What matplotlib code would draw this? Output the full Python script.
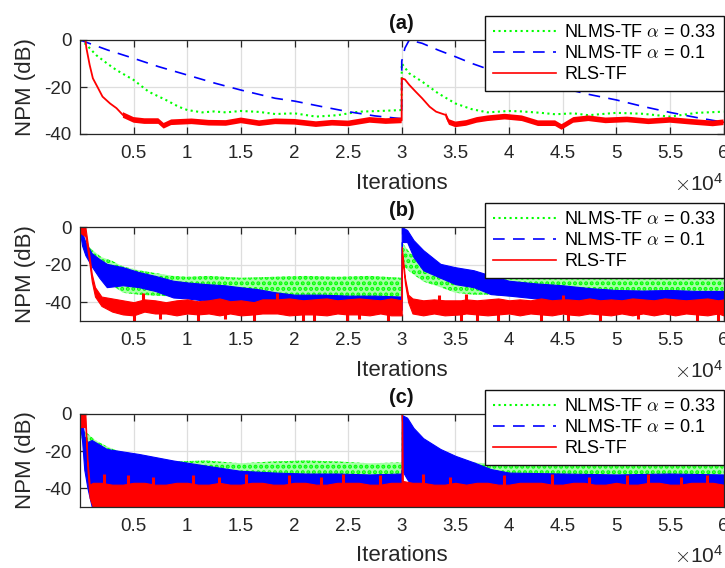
import matplotlib
matplotlib.use('Agg')
import matplotlib.pyplot as plt
from matplotlib.lines import Line2D
import numpy as np

plt.rcParams['font.family'] = ['Liberation Sans', 'DejaVu Sans']
plt.rcParams['mathtext.fontset'] = 'cm'
plt.rcParams['axes.unicode_minus'] = False
plt.rcParams['hatch.linewidth'] = 2.0

GREEN, BLUE, RED = '#00ff00', '#0000ff', '#ff0000'
labels = [r'NLMS-TF $\alpha$ = 0.33', r'NLMS-TF $\alpha$ = 0.1', 'RLS-TF']
titles = ['(a)', '(b)', '(c)']
x_ticks = [0.5, 1, 1.5, 2, 2.5, 3, 3.5, 4, 4.5, 5, 5.5, 6]
x_tick_labels = ['0.5', '1', '1.5', '2', '2.5', '3', '3.5', '4', '4.5', '5', '5.5', '6']
y_ticks = [-40, -20, 0]

# ---- (a) : iterations in units of 1e4, NPM in dB
a_blue_x = [0, 0.26, 0.5, 0.73, 1.0, 1.26, 1.5, 1.82, 2.0, 2.25, 2.5, 2.75, 2.999,
            3.0, 3.03, 3.07, 3.19, 3.34, 3.5, 3.65, 3.78, 4.0, 4.25, 4.5, 4.75,
            5.0, 5.25, 5.5, 5.75, 6.0]
a_blue = [0, -4.3, -7.8, -11.3, -14.9, -18.4, -21.3, -24.8, -26.0, -28.3, -30.5, -32.3, -33.5,
          -9.0, -3.4, 0.0, -1.4, -4.3, -7.1, -9.9, -12.0, -14.6, -17.5, -20.5, -23.2,
          -25.5, -28.3, -30.8, -33.0, -35.0]

a_green_x = [0, 0.06, 0.15, 0.25, 0.34, 0.5, 0.64, 0.8, 0.92, 1.0,
             1.14, 1.25, 1.36, 1.5, 1.67, 1.82, 2.0, 2.2, 2.4, 2.6, 2.8, 2.999,
             3.0, 3.07, 3.19, 3.34, 3.5, 3.65, 3.8, 4.0, 4.12, 4.3, 4.43, 4.6, 4.74,
             5.0, 5.25, 5.5, 5.75, 6.0]
a_green = [0, -2.0, -6.4, -9.9, -12.8, -17.0, -22.0, -25.5, -28.4, -29.8,
           -30.8, -30.4, -30.8, -30.2, -30.6, -31.5, -31.2, -32.6, -32.0, -30.5, -30.2, -29.8,
           -10.0, -14.2, -17.7, -22.7, -27.0, -29.4, -30.8, -30.2, -30.4, -31.0, -31.6, -31.2, -32.0,
           -31.0, -31.4, -32.6, -31.0, -30.5]

a_red_x = [0, 0.05, 0.06, 0.09, 0.12, 0.17, 0.21, 0.28, 0.34, 0.4,
           0.5, 0.6, 0.73, 0.78, 0.85, 1.04, 1.2, 1.36, 1.5, 1.67,
           1.82, 2.0, 2.2, 2.35, 2.5, 2.7, 2.85, 2.999,
           3.0, 3.03, 3.07, 3.13, 3.19, 3.26, 3.32, 3.41, 3.44, 3.5,
           3.6, 3.7, 3.8, 3.96, 4.12, 4.27, 4.43, 4.49, 4.6, 4.74,
           4.9, 5.1, 5.3, 5.5, 5.7, 5.9, 6.0]
a_red = [0, 0, -3.5, -10.6, -16.3, -20.6, -24.1, -27.0, -29.0, -31.9,
         -34.0, -34.5, -34.5, -36.5, -35.0, -34.6, -35.2, -35.3, -34.2, -35.4,
         -34.6, -34.8, -35.8, -35.2, -35.5, -34.0, -34.5, -34.2,
         -16.3, -16.8, -19.1, -22.0, -24.8, -28.4, -30.5, -31.9, -34.9, -35.9,
         -35.3, -34.0, -33.3, -32.6, -33.3, -35.4, -35.4, -37.0, -34.0, -33.3,
         -34.2, -33.8, -34.6, -34.0, -34.8, -35.5, -35.0]
a_red_spread = 1.2   # half-thickness of the noisy red trace in steady state

# ---- (b) : envelopes (upper / lower) of the noisy traces
b_green_x = [0, 0.03, 0.06, 0.11, 0.2, 0.3, 0.4, 0.55, 0.7, 0.87,
             1.0, 1.2, 1.5, 1.8, 2.1, 2.4, 2.7, 2.999,
             3.0, 3.04, 3.08, 3.2, 3.36, 3.5, 3.67, 3.83,
             4.0, 4.3, 4.6, 5.0, 5.4, 5.7, 6.0]
b_green_hi = [0, -4, -9, -12, -16, -18, -21, -23, -24.5, -26,
              -26.5, -26, -27, -26.5, -26, -26.5, -26, -27,
              -8, -11, -14, -19.6, -23, -25, -26, -26,
              -25.5, -26, -25.5, -26, -25.5, -26, -26]
b_green_lo = [-3, -9, -15, -20, -27, -31, -35, -36, -36.5, -37,
              -37, -37, -37, -37.5, -37, -37, -37.5, -37.5,
              -20, -22, -24, -29, -32, -35, -36, -36,
              -37, -37, -37, -37.5, -37, -37.5, -37]

b_blue_x = [0, 0.02, 0.05, 0.11, 0.18, 0.25, 0.4, 0.55, 0.7, 0.87,
            1.0, 1.18, 1.35, 1.49, 1.65, 1.82, 2.0, 2.25, 2.5, 2.75,
            2.999, 3.0, 3.05, 3.11, 3.2, 3.36, 3.5, 3.67, 3.83, 4.0,
            4.25, 4.5, 4.75, 5.0, 5.25, 5.5, 5.75, 6.0]
b_blue_hi = [0, -3, -8, -14, -17, -19.6, -21.4, -24, -26, -28.6,
             -29.5, -30.4, -31, -32, -33, -34.7, -36, -36, -36.5, -36.5,
             -37, 0, -1.6, -7, -12.3, -19.6, -21.4, -23, -25.8, -28.6,
             -30, -31, -32.5, -33.5, -33.8, -33.5, -34, -34]
b_blue_lo = [-3, -10, -15, -21, -27, -32, -31, -32, -34, -37.5,
             -38, -39.3, -40, -41, -41.5, -42, -43.5, -44, -44.5, -44,
             -44, -8, -8, -16, -23, -27, -30.4, -32, -35.7, -36.5,
             -38, -40, -41, -42, -43, -43.5, -43.6, -43.6]

b_red_x = [0, 0.05, 0.08, 0.11, 0.14, 0.2, 0.3, 0.4, 0.5, 0.6,
           0.7, 0.8, 0.9, 1.0, 1.1, 1.2, 1.3, 1.4, 1.5, 1.62,
           1.7, 1.84, 1.95, 2.08, 2.18, 2.3, 2.4, 2.49, 2.6, 2.7,
           2.8, 2.9, 2.999,
           3.0, 3.03, 3.06, 3.1, 3.2, 3.3, 3.4, 3.55, 3.6, 3.7,
           3.8, 3.9, 4.0, 4.1, 4.2, 4.3, 4.4, 4.5, 4.55, 4.65,
           4.75, 4.85, 4.95, 5.05, 5.15, 5.25, 5.35, 5.45, 5.55, 5.65,
           5.75, 5.85, 5.95, 6.0]
b_red_hi = [0, 0, -12, -25, -32, -37, -38, -39, -40, -38.5,
            -39, -40, -39, -38.5, -39.5, -39, -38, -39.5, -39, -40,
            -38.5, -38.5, -38, -39, -38.5, -38, -39, -38.5, -38, -38.5,
            -39, -38, -39,
            -10.5, -27, -36, -38, -39, -38.5, -39, -39, -38.5, -39,
            -38.5, -38, -39, -38.5, -39, -38, -39, -38.5, -38.5, -39,
            -38, -39, -38.5, -39, -38, -38.5, -39, -38, -38.5, -39,
            -38.5, -38, -39, -38.5]
b_red_lo = [-3, -5, -16, -29, -37, -42, -45, -46.5, -47, -45,
            -46, -46, -47, -46, -46.5, -46, -47, -46, -47, -46.5,
            -46, -46, -47, -46.5, -46.5, -47, -46, -46.5, -46.5, -47,
            -46, -47, -47,
            -14, -30, -40, -46, -47, -46, -47, -46.5, -46, -46.5,
            -47, -46.5, -46, -47, -46, -46.5, -47, -46, -46.5, -47,
            -46, -46.5, -47, -46, -47, -46, -47, -46, -47, -46,
            -46.5, -47, -46, -47]
# narrow excursions of the red trace outside its core band
b_red_spike_x = [0.5, 0.59, 0.75, 1.1, 1.35, 1.62, 1.84, 2.08, 2.18, 2.49, 2.6, 2.87,
                 3.35, 3.55, 3.6, 3.7, 3.9, 4.3, 4.5, 4.55, 4.85, 5.2, 5.75, 5.95]
b_red_spike_y = [-50, -35, -49, -50, -49, -50, -35, -50, -50, -50, -49, -50,
                 -36, -50, -35.5, -50, -50, -50, -36, -50, -50, -49, -50, -50]

# ---- (c)
c_green_x = [0, 0.02, 0.06, 0.14, 0.25, 0.4, 0.55, 0.87, 1.18, 1.5,
             1.8, 2.1, 2.4, 2.7, 2.999, 3.0, 3.02, 3.05, 3.1, 3.2,
             3.4, 3.6, 3.8, 4.0, 4.5, 5.0, 5.5, 6.0]
c_green_hi = [-3, -8, -10, -14, -17.4, -21, -22.8, -25.5, -25, -26.5,
              -25.5, -25, -25.5, -26.5, -26, -8, -12, -14, -20, -26,
              -26.5, -26, -26.5, -25.5, -25, -25.5, -25, -25.5]
c_green_lo = [-8, -14, -20, -28, -33, -37, -40, -42, -42, -42,
              -42, -42, -42, -42, -42, -20, -25, -30, -38, -40,
              -42, -42, -42, -42, -42, -42, -42, -42]

c_blue_x = [0, 0.02, 0.04, 0.07, 0.11, 0.25, 0.55, 0.87, 1.18, 1.49,
            1.82, 2.1, 2.4, 2.7, 2.999, 3.0, 3.05, 3.11, 3.2, 3.36,
            3.5, 3.67, 3.83, 4.0, 4.5, 5.0, 5.5, 6.0]
c_blue_hi = [0, -3, -12, -15, -14, -18.8, -21.5, -25, -27.8, -30.5,
             -31.5, -32, -32, -32.5, -32, -0.5, -2, -7.5, -13, -18.8,
             -22.5, -26, -29.6, -31.5, -32, -32.5, -32, -32.5]
c_blue_lo = [-5, -15, -30, -40, -50, -50, -50, -50, -50, -50,
             -50, -50, -50, -50, -50, -30, -35, -40, -45, -48,
             -50, -50, -50, -50, -50, -50, -50, -50]

c_red_x = [0, 0.05, 0.07, 0.09, 0.12, 0.2, 0.3, 0.4, 0.5, 0.6,
           0.7, 0.8, 0.9, 1.0, 1.1, 1.2, 1.3, 1.4, 1.5, 1.6,
           1.7, 1.8, 1.9, 2.0, 2.1, 2.2, 2.3, 2.4, 2.5, 2.6,
           2.7, 2.8, 2.9, 2.999,
           3.0, 3.004, 3.01, 3.1, 3.2, 3.3, 3.4, 3.5, 3.6, 3.7,
           3.8, 3.9, 4.0, 4.1, 4.2, 4.3, 4.4, 4.5, 4.6, 4.7,
           4.8, 4.9, 5.0, 5.1, 5.2, 5.3, 5.4, 5.5, 5.6, 5.7,
           5.8, 5.9, 6.0]
c_red_hi = [0, 0, -25, -38, -37, -37, -38, -38, -37, -37,
            -38, -38, -37, -37, -38, -38, -37, -38, -38, -37,
            -37, -38, -38, -37, -37, -38, -38, -37, -37, -37,
            -38, -38, -37, -37,
            0, -5, -36, -37, -37, -38, -38, -37, -38, -37,
            -37, -38, -38, -37, -37, -37, -38, -38, -37, -37,
            -38, -38, -37, -38, -38, -37, -37, -38, -38, -37,
            -37, -37, -38]
c_red_lo = [-7, -7, -30, -45, -50, -50, -50, -50, -50, -50,
            -50, -50, -50, -50, -50, -50, -50, -50, -50, -50,
            -50, -50, -50, -50, -50, -50, -50, -50, -50, -50,
            -50, -50, -50, -50,
            -50, -50, -50, -50, -50, -50, -50, -50, -50, -50,
            -50, -50, -50, -50, -50, -50, -50, -50, -50, -50,
            -50, -50, -50, -50, -50, -50, -50, -50, -50, -50,
            -50, -50, -50]
c_red_spike_x = [0.22, 0.45, 0.68, 1.05, 1.3, 1.55, 1.95, 2.25, 2.45, 2.8,
                 3.2, 3.45, 3.95, 4.4, 4.75, 5.1, 5.3, 5.6, 5.85]
c_red_spike_y = [-32, -33, -34, -33, -34, -32.5, -33, -34, -32, -33,
                 -32, -34, -33, -32.5, -34, -33, -32, -34, -33]

W, H = 725, 568
fig = plt.figure(figsize=(W / 100, H / 100), dpi=100)

# axes boxes in pixels: left, top, bottom
boxes = [(80, 40, 134), (80, 227, 321), (80, 414, 507)]
right = 723.5
axes = []
for left, top, bottom in boxes:
    axes.append(fig.add_axes([left / W, 1 - bottom / H, (right - left) / W, (bottom - top) / H]))

handles = [Line2D([], [], color=GREEN, ls=':', lw=1.5),
           Line2D([], [], color=BLUE, ls=(0, (7, 5)), lw=1.2),
           Line2D([], [], color=RED, ls='-', lw=1.2)]


def band(ax, x, lo, hi, color, dotted=False):
    if dotted:
        # speckled look of the dotted noisy trace: pale fill + dots
        ax.fill_between(x, lo, hi, facecolor='#a6ffa6', edgecolor=color,
                        hatch='...', linewidth=0, zorder=2)
    else:
        ax.fill_between(x, lo, hi, facecolor=color, edgecolor=color,
                        linewidth=0.8, zorder=3)


# (a)
ax = axes[0]
ax.plot(a_green_x, a_green, color=GREEN, ls=':', lw=1.5, zorder=2)
ax.plot(a_blue_x, a_blue, color=BLUE, ls=(0, (7, 5)), lw=1.2, zorder=3)
xr = np.asarray(a_red_x)
yr = np.asarray(a_red)
noisy = ((xr >= 0.4) & (xr < 3.0)) | (xr >= 3.4)
ax.fill_between(xr, yr - a_red_spread, yr + a_red_spread, where=noisy,
                color=RED, lw=0, zorder=4)
ax.plot(xr, yr, color=RED, lw=1.3, zorder=4)

# (b)
ax = axes[1]
band(ax, b_green_x, b_green_lo, b_green_hi, GREEN, dotted=True)
band(ax, b_blue_x, b_blue_lo, b_blue_hi, BLUE)
band(ax, b_red_x, b_red_lo, b_red_hi, RED)
ax.vlines(b_red_spike_x, -42, b_red_spike_y, color=RED, lw=2.2, zorder=3)

# (c)
ax = axes[2]
band(ax, c_green_x, c_green_lo, c_green_hi, GREEN, dotted=True)
band(ax, c_blue_x, c_blue_lo, c_blue_hi, BLUE)
band(ax, c_red_x, c_red_lo, c_red_hi, RED)
ax.vlines(c_red_spike_x, -42, c_red_spike_y, color=RED, lw=2.2, zorder=3)

ylims = [(-40, 0), (-50, 0), (-50, 0)]
for ax, title, ylim in zip(axes, titles, ylims):
    ax.set_xlim(0, 6)
    ax.set_ylim(*ylim)
    ax.set_xticks(x_ticks)
    ax.set_xticklabels(x_tick_labels)
    ax.set_yticks(y_ticks)
    ax.set_yticklabels(['-40', '-20', '0'])
    ax.grid(True, color='#dedede', lw=0.9, zorder=0)
    ax.set_axisbelow(True)
    for s in ax.spines.values():
        s.set_color('#262626')
        s.set_linewidth(0.9)
        s.set_zorder(6)
    ax.tick_params(direction='in', length=5, width=0.9, top=True, right=True,
                   colors='#262626', labelsize=13.5)
    ax.tick_params(axis='x', pad=8)
    ax.tick_params(axis='y', pad=6)
    ax.set_title(title, fontsize=14.5, fontweight='bold', pad=8, color='#111111')
    ax.set_xlabel('Iterations', fontsize=16, color='#262626')
    ax.xaxis.set_label_coords(0.5, -0.41)
    ax.set_ylabel('NPM (dB)', fontsize=16, color='#262626')
    ax.yaxis.set_label_coords(-0.068, 0.5)
    ax.text(1.0, -0.60, r'$\times\mathregular{10^{4}}$', transform=ax.transAxes,
            ha='right', va='baseline', fontsize=15, color='#262626')
    leg = ax.legend(handles, labels, loc='upper right', bbox_to_anchor=(1.0, 1.255),
                    borderaxespad=0, fontsize=13, frameon=True, fancybox=False,
                    framealpha=1, edgecolor='#111111', handlelength=3.5,
                    handletextpad=0.45, labelspacing=0.22, borderpad=0.45)
    leg.get_frame().set_linewidth(1.0)
    leg.set_zorder(10)

fig.savefig('out.png', dpi=100)
